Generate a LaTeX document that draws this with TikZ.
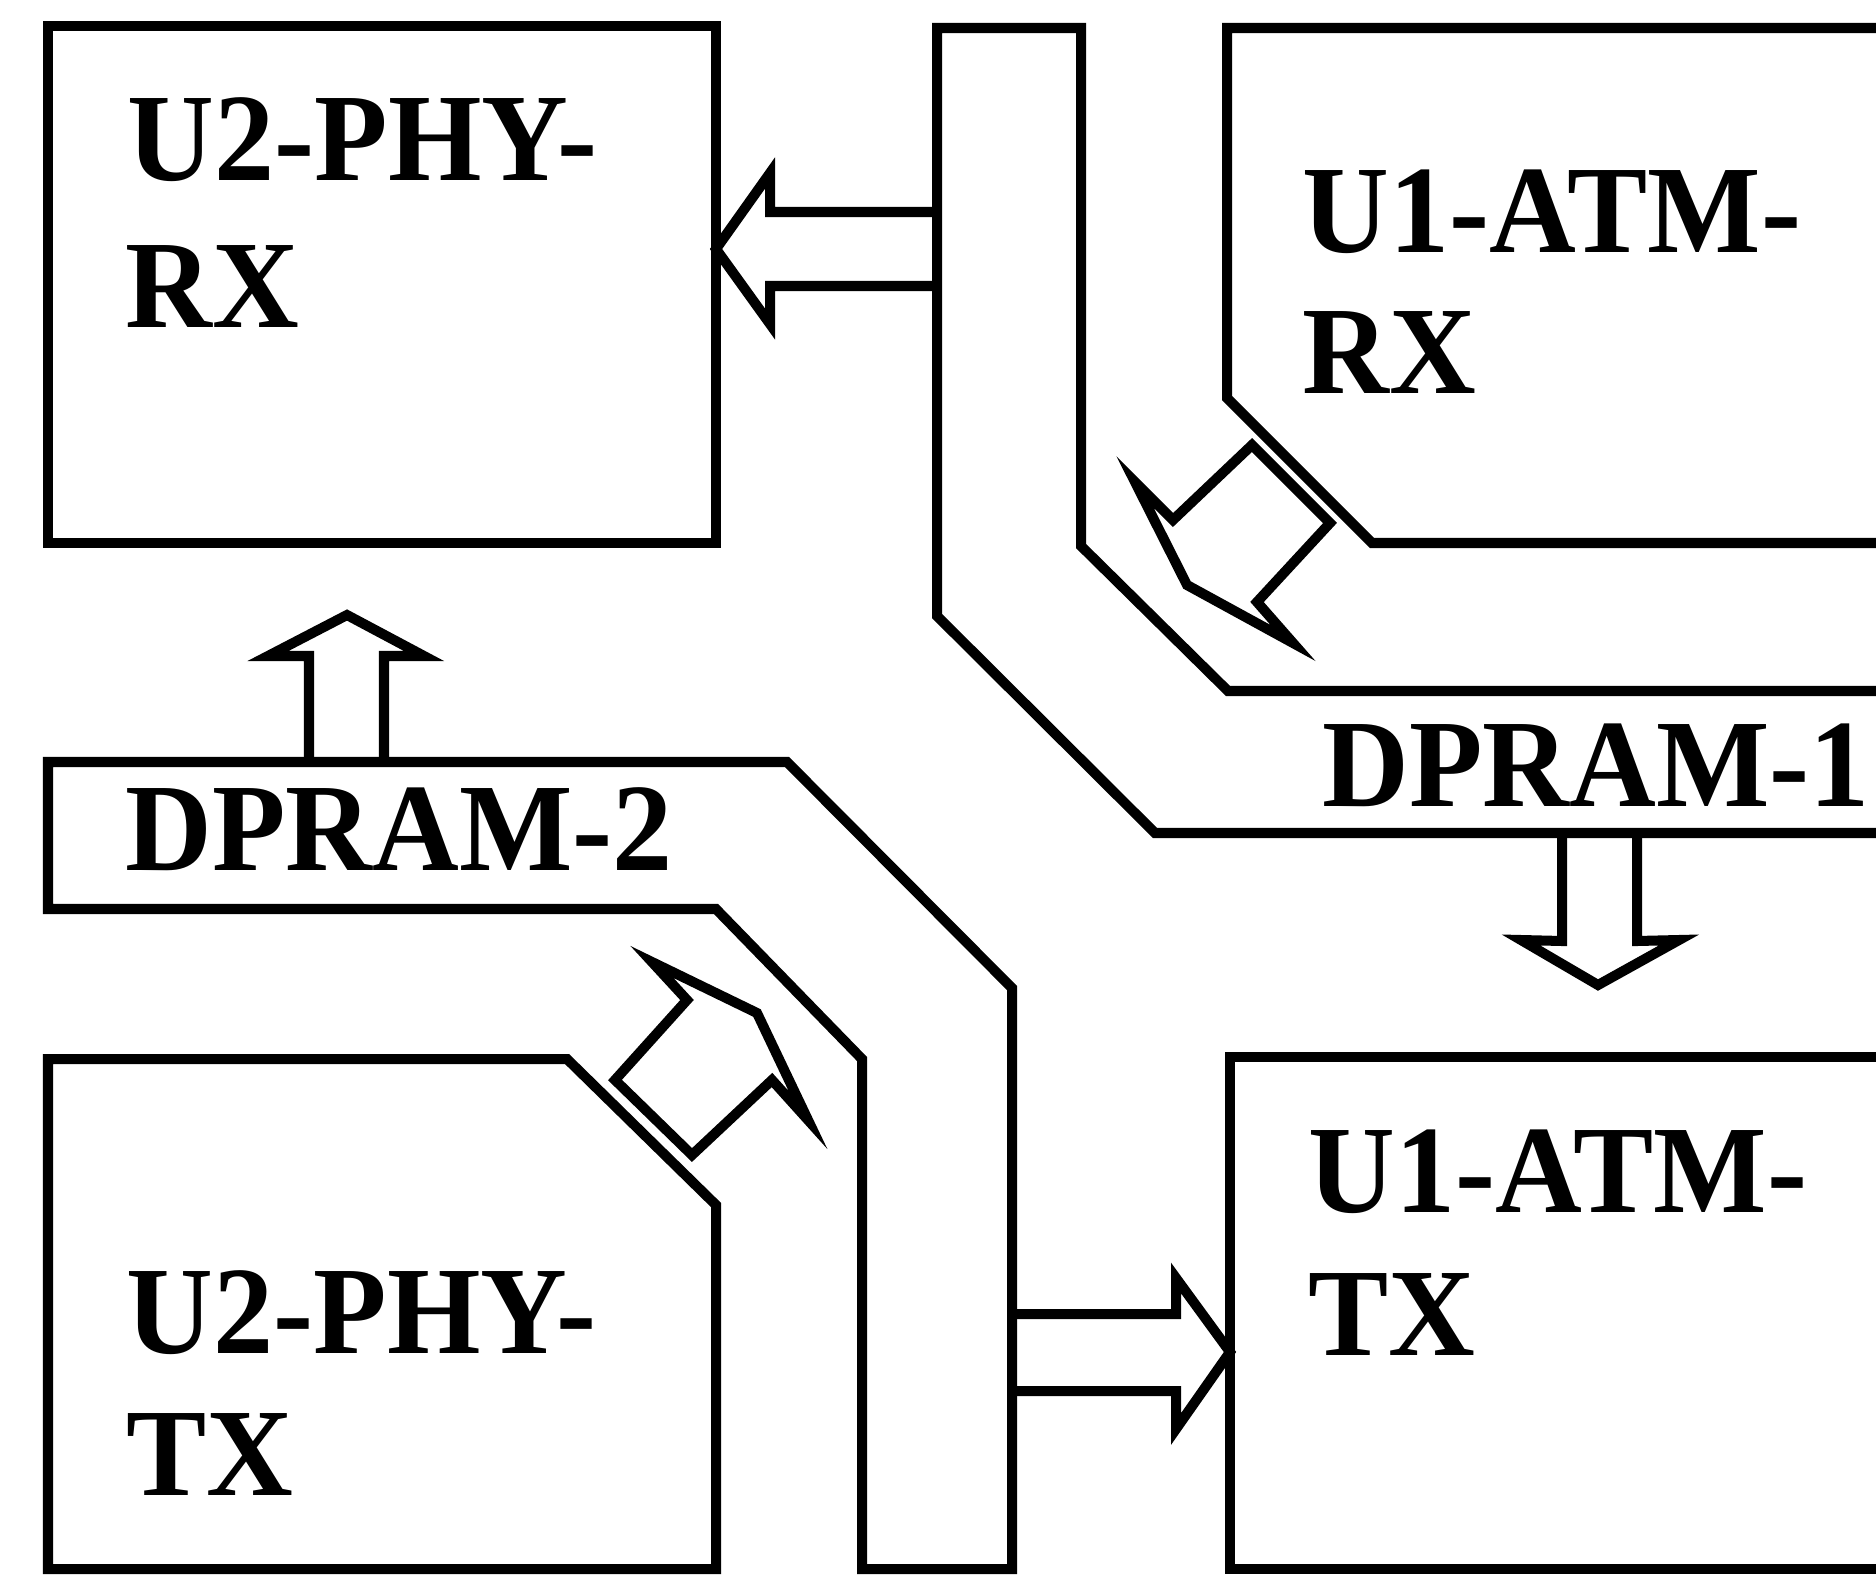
\documentclass[tikz,border=0pt]{standalone}
\usepackage{fontspec}
\setmainfont{Liberation Serif}[FakeStretch=0.96]
\begin{document}
\begin{tikzpicture}[x=0.01cm,y=-0.01cm,
  shapeline/.style={draw=black, line width=2.85pt, line join=miter, line cap=butt},
  txt/.style={inner sep=0pt, anchor=base west, font=\fontsize{35.6}{42}\selectfont\bfseries}]
\useasboundingbox (0,0) rectangle (1876,1576);
\fill[white] (0,0) rectangle (1876,1576);
\clip (0,0) rectangle (1876,1576);

% ---- blocks ----
% U2-PHY-RX
\draw[shapeline] (48,26) rectangle (716,543);
% U1-ATM-RX (cut corner)
\draw[shapeline] (1910,28) -- (1227,28) -- (1227,398) -- (1372,543) -- (1910,543);
% U2-PHY-TX (cut corner)
\draw[shapeline] (48,1059) -- (567,1059) -- (716,1205) -- (716,1569) -- (48,1569) -- cycle;
% U1-ATM-TX
\draw[shapeline] (1910,1057) -- (1230,1057) -- (1230,1569) -- (1910,1569);

% ---- buses ----
% DPRAM-1
\draw[shapeline] (1910,691) -- (1228,691) -- (1081,546) -- (1081,28) -- (937,28)
  -- (937,616) -- (1155,833) -- (1910,833);
% DPRAM-2
\draw[shapeline] (48,762) -- (787,762) -- (1012,988) -- (1012,1569) -- (862,1569)
  -- (862,1059) -- (716,909) -- (48,909) -- cycle;

% ---- block arrows ----
% DPRAM-1 -> U2-PHY-RX
\draw[shapeline] (937,212) -- (770,212) -- (770,173) -- (716,249) -- (770,324)
  -- (770,286) -- (937,286);
% U1-ATM-RX -> DPRAM-1
\draw[shapeline] (1252,445) -- (1173,520) -- (1135,482) -- (1187,585) -- (1293,643)
  -- (1257,602) -- (1330,523) -- cycle;
% DPRAM-1 -> U1-ATM-TX
\draw[shapeline] (1562,833) -- (1562,941) -- (1521,940) -- (1598,985) -- (1679,940)
  -- (1637,941) -- (1637,833);
% DPRAM-2 -> U2-PHY-RX
\draw[shapeline] (309,762) -- (309,656) -- (268,656) -- (347,615) -- (424,656)
  -- (384,656) -- (384,762);
% U2-PHY-TX -> DPRAM-2
\draw[shapeline] (615,1080) -- (687,1000) -- (652,962) -- (757,1013) -- (808,1120)
  -- (772,1080) -- (692,1155) -- cycle;
% DPRAM-2 -> U1-ATM-TX
\draw[shapeline] (1012,1314) -- (1176,1314) -- (1176,1278) -- (1230,1352) -- (1176,1429)
  -- (1176,1391) -- (1012,1391);

% ---- texts ----
\node[txt] (prxA) at (127,180) {U2-PHY-};
\node[txt] (prxB) at (125,327) {RX};
\node[txt] (arxA) at (1302,252) {U1-ATM-};
\node[txt] (arxB) at (1302,393) {RX};
\node[txt] (dp1) at (1322,806) {DPRAM-1};
\node[txt] (dp2) at (125,870) {DPRAM-2};
\node[txt] (atxA) at (1308,1212) {U1-ATM-};
\node[txt] (atxB) at (1308,1355) {TX};
\node[txt] (ptxA) at (126,1353) {U2-PHY-};
\node[txt] (ptxB) at (126,1495) {TX};
\end{tikzpicture}
\end{document}
